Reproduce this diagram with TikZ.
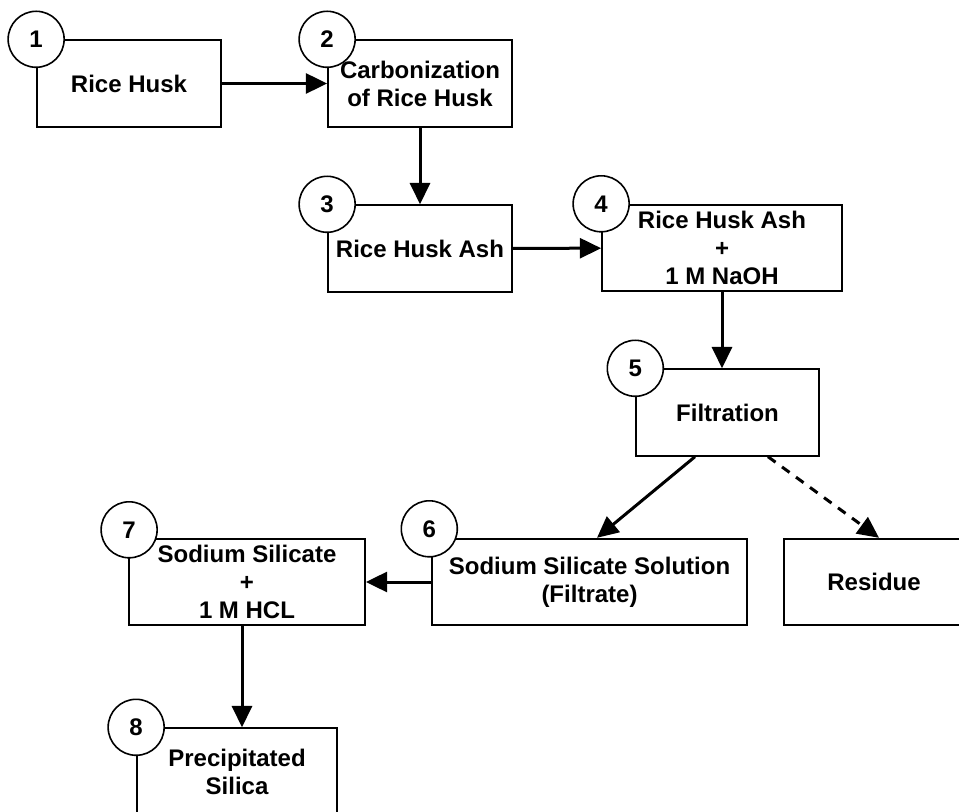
\documentclass[tikz,border=0pt]{standalone}
\usepackage{fontspec}
\setmainfont{Liberation Sans}
\usetikzlibrary{arrows.meta}

\tikzset{
  stage/.style={draw, line width=1.3pt, rectangle, align=center,
    font=\fontsize{18}{21}\selectfont\bfseries, minimum height=65pt, inner sep=0pt},
  badge/.style={draw, circle, fill=white, line width=1.2pt, minimum size=42pt,
    inner sep=0pt, font=\fontsize{18}{21}\selectfont\bfseries},
  flow/.style={line width=2.25pt, -{Triangle[length=16pt,width=15pt]}},
}

\begin{document}
\begin{tikzpicture}[x=0.75pt,y=-0.75pt]
\useasboundingbox (0,0) rectangle (959,812);
\fill[white] (0,0) rectangle (959,812);
\clip (0,0) rectangle (959,812);

\node[stage, minimum width=138pt] (husk)   at (129,83.5)   {Rice Husk};
\node[stage, minimum width=138pt] (carb)   at (420,83.5)   {Carbonization\\of Rice Husk};
\node[stage, minimum width=138pt] (ash)    at (420,248.5)  {Rice Husk Ash};
\node[stage, minimum width=180pt] (mix)    at (722,248)    {Rice Husk Ash\\+\\1 M NaOH};
\node[stage, minimum width=137pt] (filt)   at (727.5,412.5) {Filtration};
\node[stage, minimum width=236pt] (sol)    at (589.5,582)  {Sodium Silicate Solution\\(Filtrate)};
\node[stage, minimum width=177pt] (acid)   at (247,582)    {Sodium Silicate\\+\\1 M HCL};
\node[stage, minimum width=150pt] (silica) at (237,771.5)  {Precipitated\\Silica};
\node[stage, minimum width=135pt] (res)    at (874,582)    {Residue};

\node[badge] (n1) at (husk.north west) {1};
\node[badge] (n2) at (carb.north west) {2};
\node[badge] (n3) at (ash.north west) {3};
\node[badge] (n4) at (mix.north west) {4};
\node[badge] (n5) at (filt.north west) {5};
\node[badge] (n6) at ([shift={(-2,-9)}]sol.north west) {6};
\node[badge] (n7) at ([shift={(1,-8)}]acid.north west) {7};
\node[badge] (n8) at (silica.north west) {8};

\draw[flow] (husk) -- (carb);
\draw[flow] (carb) -- (ash);
\draw[flow] (ash) -- (mix);
\draw[flow] (mix.south) -- (mix.south |- filt.north);
\draw[flow] ([shift={(-32.5,0)}]filt.south) -- ([shift={(7.5,0)}]sol.north);
\draw[flow, dash pattern=on 7pt off 6pt] ([shift={(40.5,0)}]filt.south) -- ([shift={(5,0)}]res.north);
\draw[flow] (sol) -- (acid);
\draw[flow] ([shift={(-5,0)}]acid.south) -- ([shift={(5,0)}]silica.north);
\end{tikzpicture}
\end{document}
